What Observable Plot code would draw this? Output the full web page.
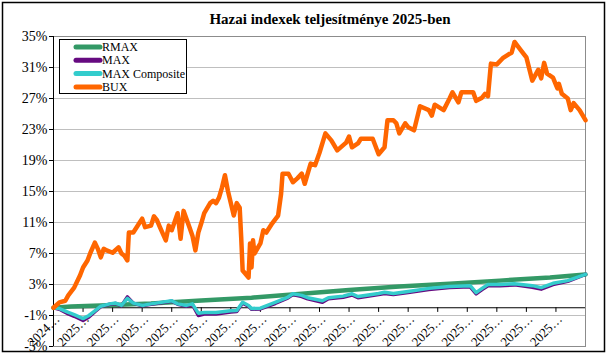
<!DOCTYPE html>
<html><head><meta charset="utf-8">
<script src="https://cdn.jsdelivr.net/npm/d3@7"></script>
<script src="https://cdn.jsdelivr.net/npm/@observablehq/plot@0.6"></script>
<style>body{margin:0;background:#fff}#chart{position:relative;width:607px;height:356px}
#chart svg, #chart svg text{font-family:"Liberation Serif","Times New Roman",serif !important}</style>
</head><body><div id="chart"></div>
<script>
const title = "Hazai indexek teljesítménye 2025-ben";
const seriesNames = ["RMAX", "MAX", "MAX Composite", "BUX"];
const seriesColors = ["#339966", "#660a80", "#33cccc", "#ff6600"];
const seriesWidths = [4.5, 3.5, 3.5, 4.5];
const yTicks = [-5, -1, 3, 7, 11, 15, 19, 23, 27, 31, 35];
const xTickDays = [0, 10, 20, 30, 40, 50, 60, 70, 80, 90, 100, 110, 120, 130, 140, 150, 160, 170];
const xTickLabels = ["2024…", "2025…", "2025…", "2025…", "2025…", "2025…", "2025…", "2025…", "2025…",
  "2025…", "2025…", "2025…", "2025…", "2025…", "2025…", "2025…", "2025…", "2025…"];

const rmaxDay = [0, 6, 16, 33, 50, 67, 84, 100, 117, 134, 151, 168, 180];
const rmaxValue = [0, 0.15, 0.3, 0.55, 0.95, 1.3, 1.8, 2.3, 2.75, 3.1, 3.5, 3.9, 4.3];

const maxDay = [0, 2, 5, 7, 10, 12, 14, 16, 19, 21, 23, 25, 27, 30, 33, 40, 42, 45, 47, 49, 51, 55, 60, 62, 64, 66, 67, 70, 75, 79, 81, 84, 86, 91, 93, 98, 101, 103, 110, 112, 115, 120, 127, 134, 141, 143, 145, 147, 151, 156, 162, 165, 169, 174, 180];
const maxValue = [0, -0.2, -0.8, -1.1, -1.65, -1.2, -0.5, 0.15, 0.45, 0.55, 0.25, 1.4, 0.6, 0.25, 0.45, 0.85, 0.45, 0.2, 0.4, -1.0, -0.8, -0.8, -0.55, -0.5, 0.6, 0.2, -0.2, -0.15, 0.55, 1.2, 1.7, 1.45, 1.15, 0.7, 1.15, 1.35, 1.65, 1.3, 1.7, 1.85, 1.7, 1.95, 2.35, 2.6, 2.7, 1.8, 2.35, 2.85, 2.85, 2.95, 2.65, 2.4, 3.0, 3.4, 4.3];

const compDay = [0, 2, 5, 7, 10, 12, 14, 16, 19, 21, 23, 25, 27, 30, 33, 40, 42, 45, 47, 49, 51, 55, 60, 62, 64, 66, 67, 70, 75, 79, 81, 84, 86, 91, 93, 98, 101, 103, 110, 112, 115, 120, 127, 134, 141, 143, 145, 147, 151, 156, 162, 165, 169, 174, 180];
const compValue = [0, -0.1, -0.6, -0.9, -1.4, -1.0, -0.4, 0.2, 0.5, 0.6, 0.3, 1.2, 0.6, 0.3, 0.5, 0.9, 0.5, 0.3, 0.5, -0.7, -0.6, -0.6, -0.4, -0.35, 0.7, 0.3, -0.1, -0.05, 0.7, 1.3, 1.8, 1.6, 1.3, 0.9, 1.3, 1.5, 1.8, 1.45, 1.85, 2.0, 1.85, 2.1, 2.5, 2.75, 2.85, 1.95, 2.5, 3.0, 3.0, 3.1, 2.85, 2.6, 3.15, 3.5, 4.3];

const buxDay = [0, 2, 4, 5, 7, 9, 10, 11.5, 12.5, 14, 15, 16, 17, 18, 20, 22, 23, 24, 25, 25.5, 27, 29, 30, 31, 33, 34, 35, 36, 38, 39, 40, 42, 43, 44, 46, 47, 48, 49, 50, 51, 53, 54, 55, 56, 57, 58, 59, 61, 62, 63, 63.5, 64, 66, 66.5, 67, 67.5, 68, 70, 71, 72, 74, 76, 77, 77.5, 79.5, 81, 82.5, 84, 85, 87, 88.5, 90, 92, 94, 96, 99, 100, 101, 103, 104, 108, 110, 112, 113, 115, 116, 117, 119, 120, 122, 124, 127, 128, 129, 132, 134, 135, 137, 138, 142, 143, 145, 146, 147, 148, 150, 152, 154, 155, 156, 157, 159, 160, 162, 164, 165, 166, 167, 169, 170.5, 171, 172, 174, 175, 176, 178, 180];
const buxValue = [0, 0.7, 0.9, 1.6, 2.6, 4.2, 5.2, 6.1, 7.1, 8.4, 7.6, 6.5, 7.6, 7.4, 7.1, 7.8, 7.0, 6.7, 6.1, 9.7, 9.7, 10.9, 11.5, 10.4, 10.6, 11.8, 11.3, 10.4, 8.7, 10.6, 10.0, 12.2, 8.9, 12.5, 10.4, 9.3, 7.4, 9.7, 10.9, 12.2, 13.5, 13.8, 13.5, 14.2, 15.5, 17.1, 15.1, 11.9, 13.5, 12.9, 9.1, 4.8, 3.9, 8.3, 5.2, 8.7, 7.0, 8.3, 10.0, 9.7, 10.9, 11.9, 14.7, 17.3, 17.3, 16.2, 16.7, 17.3, 16.0, 18.6, 18.4, 20.0, 22.5, 21.6, 20.3, 21.3, 22.1, 20.7, 21.2, 21.8, 21.8, 19.8, 20.7, 24.2, 24.2, 23.8, 22.5, 23.8, 23.3, 22.9, 26.0, 25.5, 24.8, 26.2, 25.5, 27.0, 27.8, 26.5, 27.8, 27.8, 26.7, 27.1, 27.6, 27.3, 31.5, 31.4, 32.2, 32.7, 32.9, 34.3, 33.8, 32.8, 32.3, 29.3, 30.7, 29.6, 31.6, 30.2, 29.7, 28.3, 28.9, 27.6, 27.0, 25.5, 26.4, 25.5, 24.2];

const seriesDays = [rmaxDay, maxDay, compDay, buxDay];
const seriesValues = [rmaxValue, maxValue, compValue, buxValue];

const rows = seriesNames.map((name, s) => seriesDays[s].map((d, i) => ({series: name, day: d, value: seriesValues[s][i]})));

const plot = Plot.plot({
  width: 607,
  height: 356,
  marginLeft: 53,
  marginRight: 22,
  marginTop: 36,
  marginBottom: 10,
  style: {fontFamily: "Liberation Serif, serif", fontSize: "14px", background: "#fff", color: "#000"},
  x: {domain: [0, 180], axis: null},
  y: {domain: [-5, 35], ticks: yTicks, tickFormat: d => d + "%", tickSize: 4, tickPadding: 2, label: null},
  marks: [
    Plot.ruleY(yTicks, {stroke: "#bfbfbf", strokeWidth: 1}),
    Plot.frame({stroke: "#8c8c8c"}),
    Plot.ruleX([0], {stroke: "#000"}),
    Plot.ruleY([0], {stroke: "#000"}),
    Plot.ruleX(xTickDays, {x: d => d, y1: () => 0, y2: () => -0.6, stroke: "#000"}),
    Plot.text(xTickDays, {x: d => d, y: () => 0, text: (d, i) => xTickLabels[i], rotate: -45, textAnchor: "end", dx: 4, dy: 9, fontSize: 13}),
    ...rows.map((r, s) => Plot.line(r, {x: "day", y: "value", stroke: seriesColors[s], strokeWidth: seriesWidths[s], strokeLinejoin: "round", strokeLinecap: "round"}))
  ]
});

document.getElementById("chart").appendChild(plot);
const svg = d3.select(plot);
svg.attr("font-family", "Liberation Serif, serif");
svg.append("rect").attr("x", 2.5).attr("y", 2.5).attr("width", 602).attr("height", 349)
  .attr("fill", "none").attr("stroke", "#000").attr("stroke-width", 1.5);
svg.append("text").attr("x", 330).attr("y", 24).attr("text-anchor", "middle")
  .attr("font-weight", "bold").attr("font-size", 15).text(title);
const lg = svg.append("g").attr("text-anchor", "start");
lg.append("rect").attr("x", 59.5).attr("y", 39.5).attr("width", 127).attr("height", 54)
  .attr("fill", "#fff").attr("stroke", "#000");
seriesNames.forEach((n, i) => {
  const cy = 47 + i * 13.3;
  lg.append("line").attr("x1", 76).attr("x2", 100).attr("y1", cy).attr("y2", cy)
    .attr("stroke", seriesColors[i]).attr("stroke-width", 5).attr("stroke-linecap", "round");
  lg.append("text").attr("x", 102).attr("y", cy + 4).attr("font-size", 12).attr("text-anchor", "start").text(n);
});
</script></body></html>
